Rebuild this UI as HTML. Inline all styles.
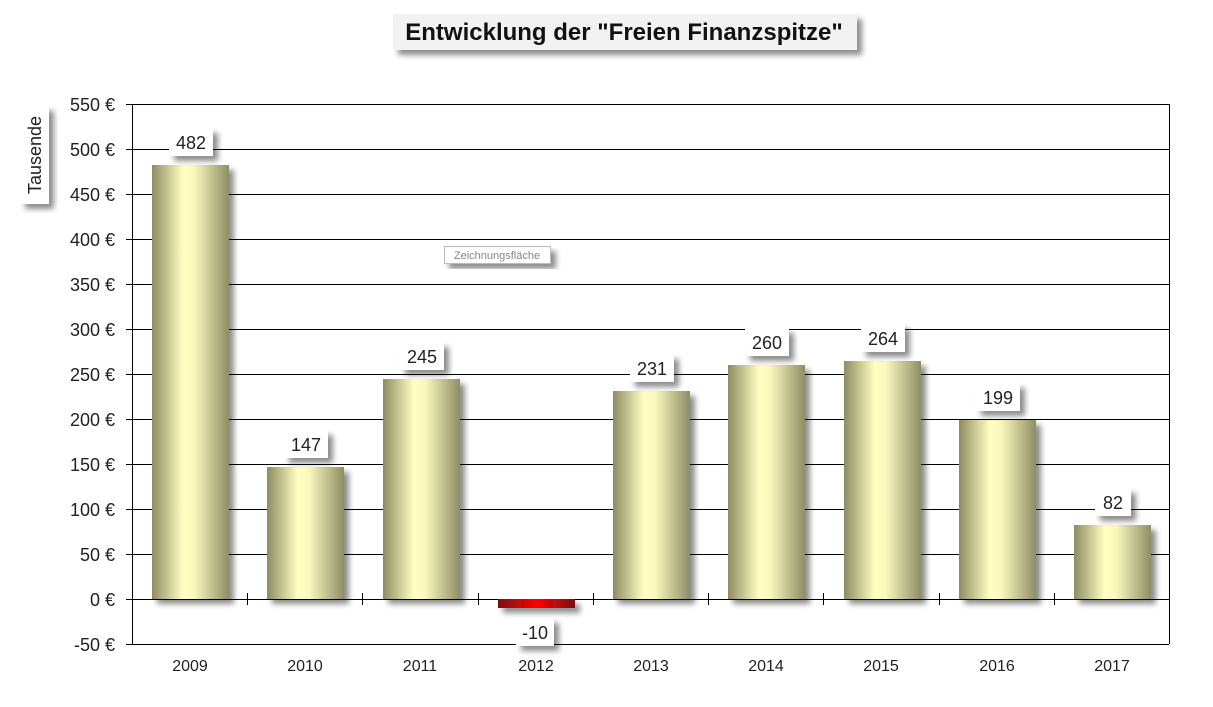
<!DOCTYPE html>
<html><head><meta charset="utf-8"><style>
html,body{margin:0;padding:0;background:#fff;}
svg{display:block;font-family:"Liberation Sans",sans-serif;}
</style></head><body>
<svg width="1213" height="707" viewBox="0 0 1213 707" xmlns="http://www.w3.org/2000/svg">
<defs>
<linearGradient id="g" x1="0" x2="1" y1="0" y2="0">
<stop offset="0" stop-color="#8c8c62"/>
<stop offset="0.4" stop-color="#ffffc2"/>
<stop offset="0.55" stop-color="#f8f8bc"/>
<stop offset="1" stop-color="#8e8e66"/>
</linearGradient>
<linearGradient id="r" x1="0" x2="1" y1="0" y2="0">
<stop offset="0" stop-color="#7a1010"/>
<stop offset="0.5" stop-color="#ff0000"/>
<stop offset="1" stop-color="#7a1010"/>
</linearGradient>
<filter id="sh" x="-20%" y="-20%" width="150%" height="150%">
<feGaussianBlur in="SourceAlpha" stdDeviation="3"/>
<feOffset dx="5" dy="5"/>
<feComponentTransfer><feFuncA type="linear" slope="0.45"/></feComponentTransfer>
<feMerge><feMergeNode/><feMergeNode in="SourceGraphic"/></feMerge>
</filter>
</defs>

<rect x="393" y="14" width="464" height="36" fill="#f2f2f2" filter="url(#sh)"/>
<text x="624" y="40" text-anchor="middle" font-size="24" font-weight="bold" fill="#111">Entwicklung der "Freien Finanzspitze"</text>

<rect x="20" y="106" width="29" height="98" fill="#fff" filter="url(#sh)"/>
<text transform="translate(41,155) rotate(-90)" text-anchor="middle" font-size="18" fill="#222">Tausende</text>

<g stroke="#000" stroke-width="1">
<line x1="126" y1="104.5" x2="1169" y2="104.5"/>
<line x1="126" y1="149.5" x2="1169" y2="149.5"/>
<line x1="126" y1="194.5" x2="1169" y2="194.5"/>
<line x1="126" y1="239.5" x2="1169" y2="239.5"/>
<line x1="126" y1="284.5" x2="1169" y2="284.5"/>
<line x1="126" y1="329.5" x2="1169" y2="329.5"/>
<line x1="126" y1="374.5" x2="1169" y2="374.5"/>
<line x1="126" y1="419.5" x2="1169" y2="419.5"/>
<line x1="126" y1="464.5" x2="1169" y2="464.5"/>
<line x1="126" y1="509.5" x2="1169" y2="509.5"/>
<line x1="126" y1="554.5" x2="1169" y2="554.5"/>
<line x1="126" y1="599.5" x2="1169" y2="599.5"/>
<line x1="126" y1="644.5" x2="1169" y2="644.5"/>
<line x1="132.5" y1="104" x2="132.5" y2="644"/>
<line x1="1169.5" y1="104" x2="1169.5" y2="644"/>
<line x1="247.5" y1="593" x2="247.5" y2="605"/>
<line x1="362.5" y1="593" x2="362.5" y2="605"/>
<line x1="478.5" y1="593" x2="478.5" y2="605"/>
<line x1="593.5" y1="593" x2="593.5" y2="605"/>
<line x1="708.5" y1="593" x2="708.5" y2="605"/>
<line x1="823.5" y1="593" x2="823.5" y2="605"/>
<line x1="939.5" y1="593" x2="939.5" y2="605"/>
<line x1="1054.5" y1="593" x2="1054.5" y2="605"/>
</g>

<g font-size="18" fill="#222" text-anchor="end">
<text x="115" y="111">550 €</text>
<text x="115" y="156">500 €</text>
<text x="115" y="201">450 €</text>
<text x="115" y="246">400 €</text>
<text x="115" y="291">350 €</text>
<text x="115" y="336">300 €</text>
<text x="115" y="381">250 €</text>
<text x="115" y="426">200 €</text>
<text x="115" y="471">150 €</text>
<text x="115" y="516">100 €</text>
<text x="115" y="561">50 €</text>
<text x="115" y="606">0 €</text>
<text x="115" y="651">-50 €</text>
</g>

<g filter="url(#sh)">
<rect x="152" y="165" width="77" height="434" fill="url(#g)"/>
<rect x="267" y="467" width="77" height="132" fill="url(#g)"/>
<rect x="383" y="379" width="77" height="220" fill="url(#g)"/>
<rect x="498" y="599" width="77" height="9" fill="url(#r)"/>
<rect x="613" y="391" width="77" height="208" fill="url(#g)"/>
<rect x="728" y="365" width="77" height="234" fill="url(#g)"/>
<rect x="844" y="361" width="77" height="238" fill="url(#g)"/>
<rect x="959" y="420" width="77" height="179" fill="url(#g)"/>
<rect x="1074" y="525" width="77" height="74" fill="url(#g)"/>
</g>

<g filter="url(#sh)" fill="#fff">
<rect x="169" y="128" width="44" height="28"/>
<rect x="284" y="430" width="44" height="28"/>
<rect x="400" y="342" width="44" height="28"/>
<rect x="516" y="618" width="38" height="28"/>
<rect x="630" y="354" width="44" height="28"/>
<rect x="745" y="328" width="44" height="28"/>
<rect x="861" y="324" width="44" height="28"/>
<rect x="976" y="383" width="44" height="28"/>
<rect x="1095" y="488" width="36" height="28"/>
</g>
<g font-size="18" fill="#222" text-anchor="middle">
<text x="191" y="149">482</text>
<text x="306" y="451">147</text>
<text x="422" y="363">245</text>
<text x="535" y="639">-10</text>
<text x="652" y="375">231</text>
<text x="767" y="349">260</text>
<text x="883" y="345">264</text>
<text x="998" y="404">199</text>
<text x="1113" y="509">82</text>
</g>

<g font-size="16" fill="#222" text-anchor="middle">
<text x="190" y="671">2009</text>
<text x="305" y="671">2010</text>
<text x="420" y="671">2011</text>
<text x="536" y="671">2012</text>
<text x="651" y="671">2013</text>
<text x="766" y="671">2014</text>
<text x="881" y="671">2015</text>
<text x="997" y="671">2016</text>
<text x="1112" y="671">2017</text>
</g>

<rect x="444.5" y="246.5" width="106" height="17" fill="#fff" stroke="#bbb" filter="url(#sh)"/>
<text x="497" y="259" text-anchor="middle" font-size="11" fill="#888">Zeichnungsfläche</text>
</svg>
</body></html>
